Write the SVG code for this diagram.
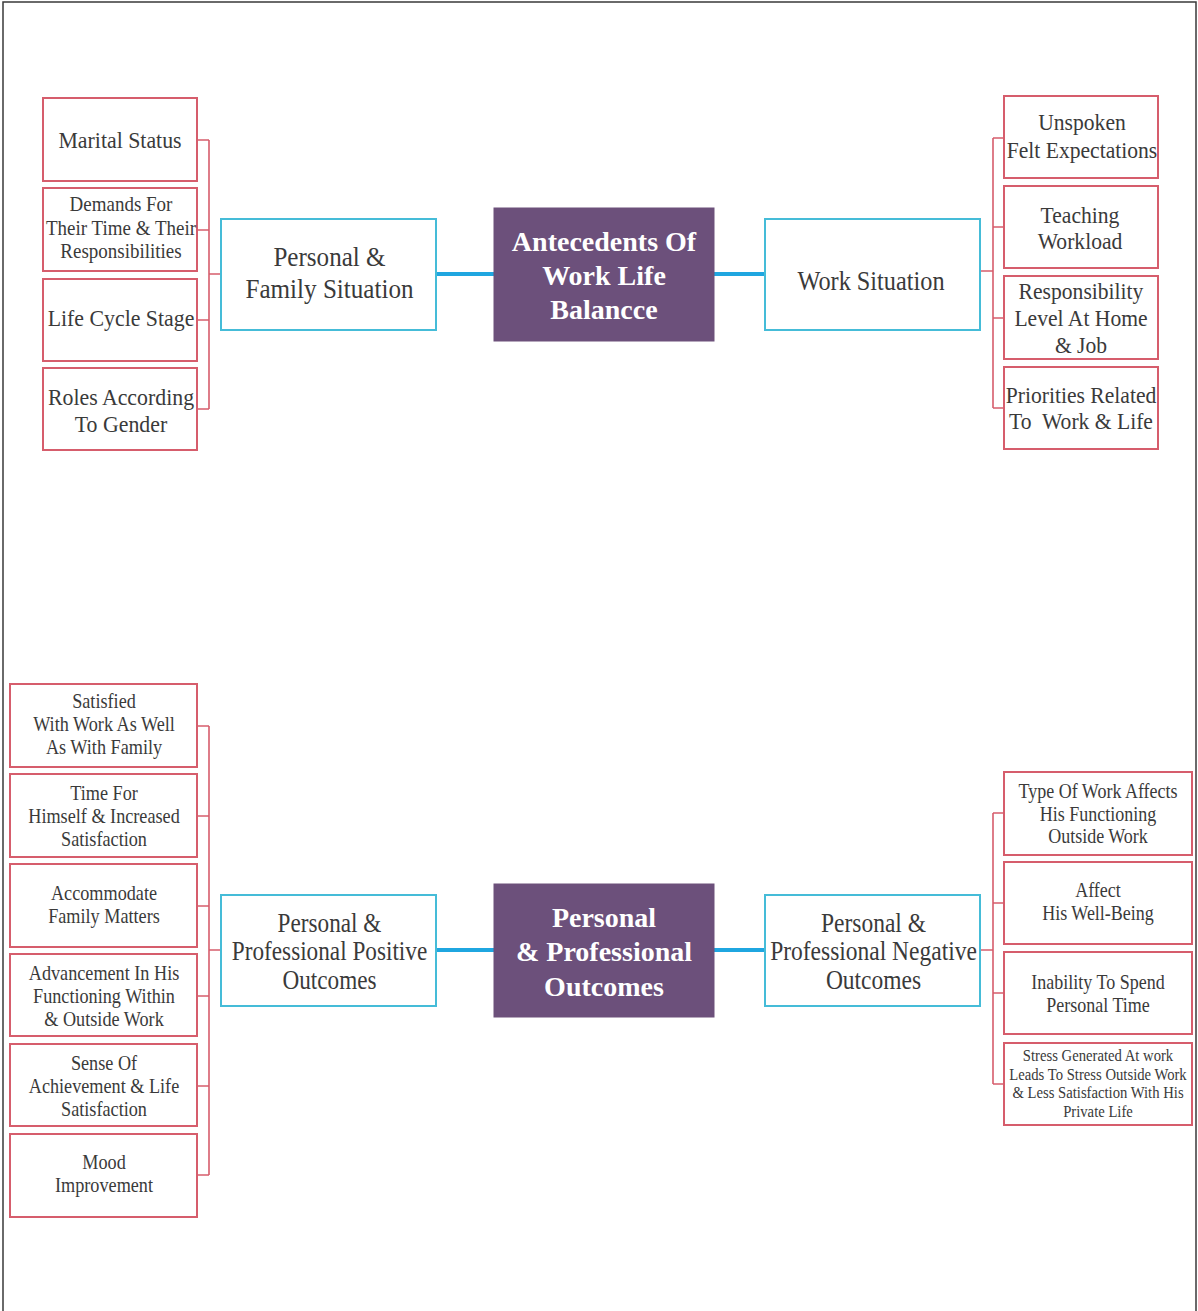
<svg xmlns="http://www.w3.org/2000/svg" width="1198" height="1311" viewBox="0 0 1198 1311">
  <style>
    .leaf { fill: #ffffff; stroke: #d65d6c; stroke-width: 2; }
    .hub { fill: #ffffff; stroke: #45bcd8; stroke-width: 2; }
    .core { fill: #6c507b; stroke: #6c507b; stroke-width: 1; }
    .tree { fill: none; stroke: #d65d6c; stroke-width: 1.6; }
    .link { fill: none; stroke: #1fa6e0; stroke-width: 4; }
    .frame { fill: none; stroke: #3a3a3a; stroke-width: 1.5; }
    text { font-family: "Liberation Serif", "Times New Roman", serif; fill: #3a3a3a; text-anchor: middle; }
    .t24 { font-size: 24px; }
    .t20 { font-size: 20px; }
    .t26 { font-size: 27px; }
    .t16 { font-size: 16.5px; }
    .big { font-size: 28px; font-weight: bold; fill: #ffffff; }
  </style>

  <path class="frame" d="M3,1311 V2 H1196 V1311"/>

  <!-- connectors -->
  <g id="connectors">
    <!-- top left tree -->
    <path class="tree" d="M197,140 H209 M197,230 H209 M197,320 H209 M197,409 H209 M209,140 V409 M209,274 H221"/>
    <line class="link" x1="436" y1="274" x2="494" y2="274"/>
    <line class="link" x1="714" y1="274" x2="765" y2="274"/>
    <!-- top right tree -->
    <path class="tree" d="M980,271 H993 M993,138 V408 M993,138 H1004 M993,227 H1004 M993,318 H1004 M993,408 H1004"/>
    <!-- bottom left tree -->
    <path class="tree" d="M197,726 H209 M197,816 H209 M197,906 H209 M197,996 H209 M197,1086 H209 M197,1175 H209 M209,726 V1175 M209,950 H221"/>
    <line class="link" x1="436" y1="950" x2="494" y2="950"/>
    <line class="link" x1="714" y1="950" x2="765" y2="950"/>
    <!-- bottom right tree -->
    <path class="tree" d="M980,950 H993 M993,813 V1084 M993,813 H1004 M993,903 H1004 M993,993 H1004 M993,1084 H1004"/>
  </g>

  <!-- top half: antecedents -->
  <g id="marital-status">
    <rect class="leaf" x="43" y="98" width="154" height="83"/>
    <g transform="translate(120,0) scale(0.91,1)"><text class="t24" x="0" y="148">Marital Status</text></g>
  </g>
  <g id="demands">
    <rect class="leaf" x="43" y="188" width="154" height="83"/>
    <g transform="translate(121,0) scale(0.95,1)">
      <text class="t20" x="0" y="211">Demands For</text>
      <text class="t20" x="0" y="235">Their Time &amp; Their</text>
      <text class="t20" x="0" y="258">Responsibilities</text>
    </g>
  </g>
  <g id="life-cycle">
    <rect class="leaf" x="43" y="279" width="154" height="82"/>
    <g transform="translate(121,0) scale(0.91,1)"><text class="t24" x="0" y="326">Life Cycle Stage</text></g>
  </g>
  <g id="roles-gender">
    <rect class="leaf" x="43" y="368" width="154" height="82"/>
    <g transform="translate(121,0) scale(0.91,1)">
      <text class="t24" x="0" y="405">Roles According</text>
      <text class="t24" x="0" y="432">To Gender</text>
    </g>
  </g>

  <g id="personal-family">
    <rect class="hub" x="221" y="219" width="215" height="111"/>
    <g transform="translate(329.5,0) scale(0.93,1)">
      <text class="t26" x="0" y="266">Personal &amp;</text>
      <text class="t26" x="0" y="298">Family Situation</text>
    </g>
  </g>

  <g id="antecedents">
    <rect class="core" x="494" y="208" width="220" height="133"/>
    <text class="big" x="604" y="251">Antecedents Of</text>
    <text class="big" x="604" y="285">Work Life</text>
    <text class="big" x="604" y="319">Balancce</text>
  </g>

  <g id="work-situation">
    <rect class="hub" x="765" y="219" width="215" height="111"/>
    <g transform="translate(871,0) scale(0.9,1)"><text class="t26" x="0" y="290">Work Situation</text></g>
  </g>

  <g id="unspoken">
    <rect class="leaf" x="1004" y="96" width="154" height="82"/>
    <g transform="translate(1082,0) scale(0.9,1)">
      <text class="t24" x="0" y="130">Unspoken</text>
      <text class="t24" x="0" y="158">Felt Expectations</text>
    </g>
  </g>
  <g id="teaching">
    <rect class="leaf" x="1004" y="186" width="154" height="82"/>
    <g transform="translate(1080,0) scale(0.9,1)">
      <text class="t24" x="0" y="223">Teaching</text>
      <text class="t24" x="0" y="249">Workload</text>
    </g>
  </g>
  <g id="responsibility">
    <rect class="leaf" x="1004" y="276" width="154" height="83"/>
    <g transform="translate(1081,0) scale(0.9,1)">
      <text class="t24" x="0" y="299">Responsibility</text>
      <text class="t24" x="0" y="326">Level At Home</text>
      <text class="t24" x="0" y="353">&amp; Job</text>
    </g>
  </g>
  <g id="priorities">
    <rect class="leaf" x="1004" y="367" width="154" height="82"/>
    <g transform="translate(1081,0) scale(0.9,1)">
      <text class="t24" x="0" y="403">Priorities Related</text>
      <text class="t24" x="0" y="429" xml:space="preserve">To  Work &amp; Life</text>
    </g>
  </g>

  <!-- bottom half: outcomes -->
  <g id="satisfied">
    <rect class="leaf" x="10" y="684" width="187" height="83"/>
    <g transform="translate(104,0) scale(0.91,1)">
      <text class="t20" x="0" y="708">Satisfied</text>
      <text class="t20" x="0" y="731">With Work As Well</text>
      <text class="t20" x="0" y="754">As With Family</text>
    </g>
  </g>
  <g id="time-for-himself">
    <rect class="leaf" x="10" y="774" width="187" height="83"/>
    <g transform="translate(104,0) scale(0.91,1)">
      <text class="t20" x="0" y="800">Time For</text>
      <text class="t20" x="0" y="823">Himself &amp; Increased</text>
      <text class="t20" x="0" y="846">Satisfaction</text>
    </g>
  </g>
  <g id="accommodate">
    <rect class="leaf" x="10" y="864" width="187" height="83"/>
    <g transform="translate(104,0) scale(0.91,1)">
      <text class="t20" x="0" y="900">Accommodate</text>
      <text class="t20" x="0" y="923">Family Matters</text>
    </g>
  </g>
  <g id="advancement">
    <rect class="leaf" x="10" y="954" width="187" height="82"/>
    <g transform="translate(104,0) scale(0.91,1)">
      <text class="t20" x="0" y="980">Advancement In His</text>
      <text class="t20" x="0" y="1003">Functioning Within</text>
      <text class="t20" x="0" y="1026">&amp; Outside Work</text>
    </g>
  </g>
  <g id="achievement">
    <rect class="leaf" x="10" y="1044" width="187" height="82"/>
    <g transform="translate(104,0) scale(0.91,1)">
      <text class="t20" x="0" y="1070">Sense Of</text>
      <text class="t20" x="0" y="1093">Achievement &amp; Life</text>
      <text class="t20" x="0" y="1116">Satisfaction</text>
    </g>
  </g>
  <g id="mood">
    <rect class="leaf" x="10" y="1134" width="187" height="83"/>
    <g transform="translate(104,0) scale(0.91,1)">
      <text class="t20" x="0" y="1169">Mood</text>
      <text class="t20" x="0" y="1192">Improvement</text>
    </g>
  </g>

  <g id="positive-outcomes">
    <rect class="hub" x="221" y="895" width="215" height="111"/>
    <g transform="translate(329.5,0) scale(0.86,1)">
      <text class="t26" x="0" y="932">Personal &amp;</text>
      <text class="t26" x="0" y="960">Professional Positive</text>
      <text class="t26" x="0" y="989">Outcomes</text>
    </g>
  </g>

  <g id="outcomes">
    <rect class="core" x="494" y="884" width="220" height="133"/>
    <text class="big" x="604" y="927">Personal</text>
    <text class="big" x="604" y="961">&amp; Professional</text>
    <text class="big" x="604" y="996">Outcomes</text>
  </g>

  <g id="negative-outcomes">
    <rect class="hub" x="765" y="895" width="215" height="111"/>
    <g transform="translate(873.5,0) scale(0.87,1)">
      <text class="t26" x="0" y="932">Personal &amp;</text>
      <text class="t26" x="0" y="960">Professional Negative</text>
      <text class="t26" x="0" y="989">Outcomes</text>
    </g>
  </g>

  <g id="type-of-work">
    <rect class="leaf" x="1004" y="772" width="188" height="83"/>
    <g transform="translate(1098,0) scale(0.9,1)">
      <text class="t20" x="0" y="798">Type Of Work Affects</text>
      <text class="t20" x="0" y="821">His Functioning</text>
      <text class="t20" x="0" y="843">Outside Work</text>
    </g>
  </g>
  <g id="well-being">
    <rect class="leaf" x="1004" y="862" width="188" height="82"/>
    <g transform="translate(1098,0) scale(0.9,1)">
      <text class="t20" x="0" y="897">Affect</text>
      <text class="t20" x="0" y="920">His Well-Being</text>
    </g>
  </g>
  <g id="personal-time">
    <rect class="leaf" x="1004" y="952" width="188" height="82"/>
    <g transform="translate(1098,0) scale(0.9,1)">
      <text class="t20" x="0" y="989">Inability To Spend</text>
      <text class="t20" x="0" y="1012">Personal Time</text>
    </g>
  </g>
  <g id="stress">
    <rect class="leaf" x="1004" y="1043" width="188" height="82"/>
    <g transform="translate(1098,0) scale(0.89,1)">
      <text class="t16" x="0" y="1061">Stress Generated At work</text>
      <text class="t16" x="0" y="1080">Leads To Stress Outside Work</text>
      <text class="t16" x="0" y="1098">&amp; Less Satisfaction With His</text>
      <text class="t16" x="0" y="1117">Private Life</text>
    </g>
  </g>
</svg>
